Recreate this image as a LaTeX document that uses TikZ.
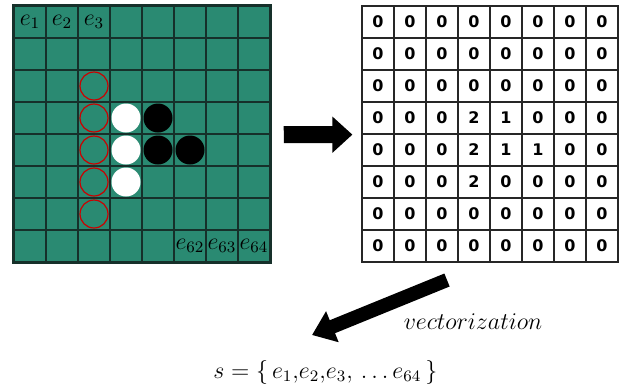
\documentclass[tikz,border=0pt]{standalone}
\usepackage{fontspec}
\newfontfamily\digitfont{DejaVu Sans}
\usetikzlibrary{arrows.meta}
\definecolor{boardgreen}{HTML}{2A8A72}
\definecolor{boardline}{HTML}{16302A}
\begin{document}
\begin{tikzpicture}[x=.5pt,y=-.5pt,
  boardcell/.style={draw=boardline,fill=boardgreen,line width=.75pt,minimum size=16pt,inner sep=0pt},
  numcell/.style={draw=black!85,line width=.6pt,minimum size=16pt,inner sep=0pt,font=\digitfont\bfseries\fontsize{8}{9}\selectfont},
  lbl/.style={inner sep=0pt,font=\fontsize{12}{14}\selectfont},
  redring/.style={draw=red!80!black,line width=.6pt},
  bigarrow/.style={-{Triangle[width=17.5pt,length=10pt]},line width=8.5pt},
  vecarrow/.style={-{Triangle[width=16pt,length=11pt]},line width=7pt}]
  \useasboundingbox (0,0) rectangle (624,388);
  % board
  \foreach \r in {1,...,8} \foreach \c in {1,...,8}
    \node[boardcell] (b-\r-\c) at (32*\c-2,32*\r-10) {};
  \draw[boardline,line width=1pt] (b-1-1.north west) rectangle (b-8-8.south east);
  \foreach \r in {3,...,7} \draw[redring] (b-\r-3) circle (14);
  \foreach \n in {b-4-4,b-5-4,b-6-4} \fill[white] (\n) circle (14.5);
  \foreach \n in {b-4-5,b-5-5,b-5-6} \fill[black] (\n) circle (14.5);
  \node[lbl] at (b-1-1) {$e_1$};
  \node[lbl] at (b-1-2) {$e_2$};
  \node[lbl] at (b-1-3) {$e_3$};
  \node[lbl] at (b-8-6) {$e_{62}$};
  \node[lbl] at (b-8-7) {$e_{63}$};
  \node[lbl] at (b-8-8) {$e_{64}$};
  % matrix
  \foreach \row [count=\r] in {{0,0,0,0,0,0,0,0},{0,0,0,0,0,0,0,0},{0,0,0,0,0,0,0,0},
      {0,0,0,2,1,0,0,0},{0,0,0,2,1,1,0,0},{0,0,0,2,0,0,0,0},
      {0,0,0,0,0,0,0,0},{0,0,0,0,0,0,0,0}}
    \foreach \v [count=\c] in \row
      \node[numcell] (m-\r-\c) at (32*\c+346,32*\r-10) {\v};
  \draw[black!85,line width=.75pt] (m-1-1.north west) rectangle (m-8-8.south east);
  \draw[bigarrow,shorten <=6.5pt,shorten >=4.5pt] (b-4-8.south east) -- (m-4-1.south west);
  % vector
  \coordinate (vtail) at (447,280);
  \coordinate (vtip) at (312,335);
  \draw[vecarrow] (vtail) -- (vtip);
  \node[lbl,font=\fontsize{11.5}{13}\selectfont] (vlabel) at (473,322) {$vectorization$};
  \node[lbl,anchor=west,font=\fontsize{11.5}{13}\selectfont] (vset) at (213,372) {$s=\{\,e_1{,}e_2{,}e_3{,}\,\ldots e_{64}\,\}$};
\end{tikzpicture}
\end{document}
